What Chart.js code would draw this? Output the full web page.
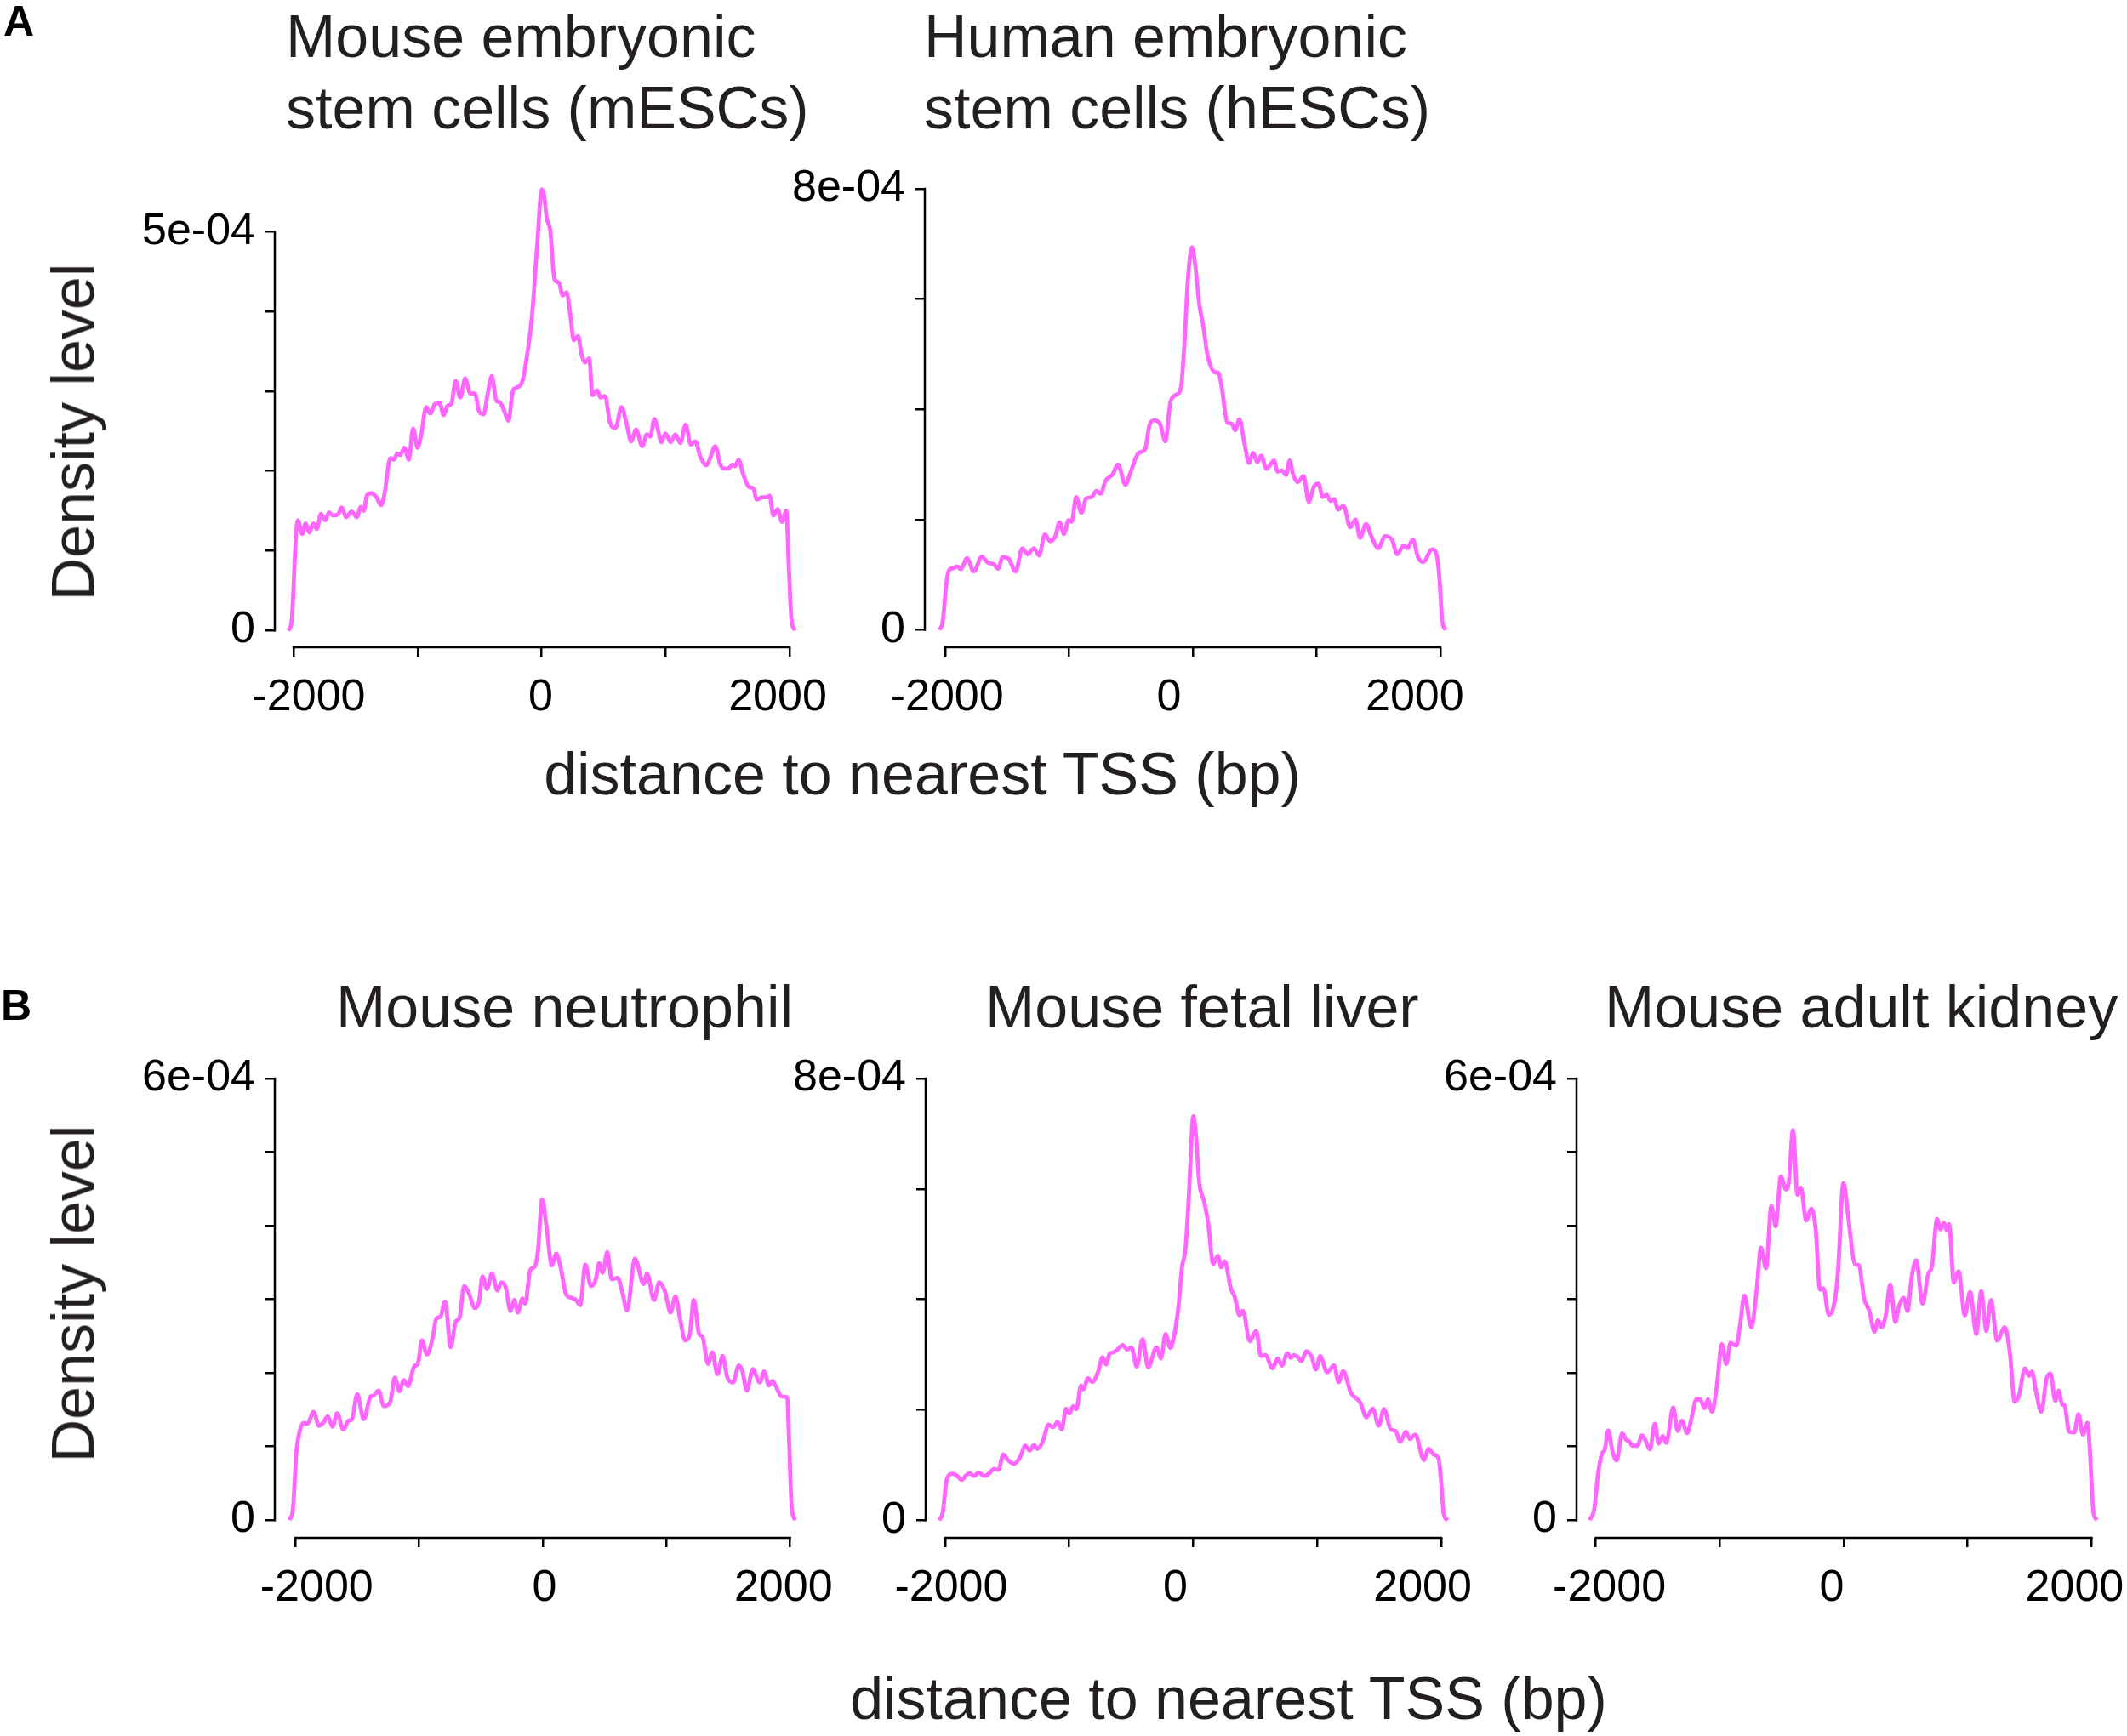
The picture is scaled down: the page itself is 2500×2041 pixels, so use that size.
<!DOCTYPE html>
<html lang="en">
<head>
<meta charset="UTF-8">
<title>Density of peaks around TSS</title>
<script src="https://cdn.jsdelivr.net/npm/chart.js@4.4.1/dist/chart.umd.min.js"></script>
<style>
  body { margin: 0; width: 2500px; height: 2041px; background: #fff; position: relative; overflow: hidden; }
  canvas { position: absolute; }
  .txt { position: absolute; font-family: 'Liberation Sans', Arial, sans-serif; font-size: 70px; line-height: 84px; color: #231f20; white-space: nowrap; }
  .lab { position: absolute; font-family: 'Liberation Sans', Arial, sans-serif; font-size: 50px; line-height: 50px; font-weight: bold; color: #000; }
  .ylab { transform: translate(-50%, -50%) rotate(-90deg); }
</style>
</head>
<body>
<canvas id="cA1"></canvas>
<canvas id="cA2"></canvas>
<canvas id="cB1"></canvas>
<canvas id="cB2"></canvas>
<canvas id="cB3"></canvas>

<div class="lab" style="left:4px; top:0px;">A</div>
<div class="lab" style="left:1px; top:1157px;">B</div>

<div class="txt" style="left:336px; top:1px;">Mouse embryonic<br>stem cells (mESCs)</div>
<div class="txt" style="left:1086px; top:1px;">Human embryonic<br>stem cells (hESCs)</div>
<div class="txt" style="left:395px; top:1142px;">Mouse neutrophil</div>
<div class="txt" style="left:1158px; top:1142px;">Mouse fetal liver</div>
<div class="txt" style="left:1886px; top:1142px;">Mouse adult kidney</div>

<div class="txt" style="left:384px; width:1400px; text-align:center; top:868px;">distance to nearest TSS (bp)</div>
<div class="txt" style="left:744px; width:1400px; text-align:center; top:1955px;">distance to nearest TSS (bp)</div>

<div class="txt ylab" style="left:86px; top:508px;">Density level</div>
<div class="txt ylab" style="left:86px; top:1521px;">Density level</div>

<script>
// density values are in units of 1e-04, x in bp
var xTicks = [-2000, -1000, 0, 1000, 2000];

// A: mouse ESCs
var xA1 = [-2045,-2017,-1980,-1966,-1930,-1902,-1874,-1840,-1812,-1779,
           -1745,-1714,-1681,-1639,-1611,-1577,-1532,-1490,-1457,-1434,
           -1409,-1373,-1331,-1294,-1269,-1219,-1191,-1163,-1140,-1106,
           -1070,-1036,-1000,-972,-930,-896,-860,-821,-790,-756,
           -728,-692,-655,-616,-574,-538,-504,-468,-434,-401,
           -364,-336,-300,-266,-230,-196,-154,-112,-76,-37,
           3,22,42,70,104,140,171,202,232,260,
           294,322,350,384,411,448,476,512,551,597,
           644,686,723,762,812,849,877,910,938,966,
           1000,1042,1078,1120,1162,1204,1240,1280,1330,1364,
           1400,1442,1470,1507,1540,1562,1590,1624,1672,1708,
           1736,1778,1821,1839,1870,1904,1940,1974,1994,2016,
           2044];
var yA1 = [0,0.09,1.19,1.38,1.21,1.34,1.23,1.34,1.27,1.46,
           1.38,1.48,1.44,1.46,1.54,1.42,1.49,1.42,1.55,1.50,
           1.69,1.72,1.67,1.57,1.69,2.16,2.14,2.22,2.20,2.29,
           2.14,2.53,2.29,2.44,2.80,2.72,2.84,2.85,2.70,2.82,
           2.84,3.13,2.92,3.16,2.97,2.97,2.75,2.71,2.97,3.19,
           2.88,2.86,2.75,2.63,3.01,3.05,3.13,3.50,3.96,4.79,
           5.53,5.44,5.17,5.02,4.41,4.36,4.20,4.24,3.96,3.64,
           3.69,3.47,3.36,3.41,2.95,3.01,2.92,2.94,2.61,2.54,
           2.80,2.59,2.37,2.52,2.31,2.46,2.43,2.65,2.52,2.36,
           2.47,2.36,2.46,2.35,2.58,2.33,2.37,2.18,2.07,2.18,
           2.31,2.08,2.03,2.03,2.08,2.06,2.14,1.97,1.80,1.78,
           1.64,1.67,1.67,1.69,1.44,1.52,1.36,1.50,0.81,0.13,
           0];

// A: human ESCs
var xA2 = [-2050,-2022,-1994,-1975,-1938,-1905,-1874,-1826,-1770,-1705,
           -1658,-1607,-1574,-1537,-1489,-1433,-1377,-1335,-1285,-1243,
           -1195,-1153,-1111,-1077,-1041,-1004,-979,-943,-900,-864,
           -816,-780,-746,-704,-648,-606,-544,-508,-438,-387,
           -348,-311,-264,-222,-180,-129,-95,-67,-39,-6,
           17,53,81,118,180,208,236,278,314,342,
           376,418,454,488,522,553,595,656,684,721,
           754,782,810,847,895,937,979,1016,1049,1083,
           1111,1142,1175,1217,1273,1315,1352,1400,1442,1498,
           1554,1610,1652,1703,1736,1778,1820,1862,1933,1975,
           1994,2017,2045];
var yA2 = [0,0.14,0.79,1.06,1.12,1.15,1.10,1.30,1.06,1.33,
           1.22,1.19,1.11,1.32,1.29,1.06,1.48,1.37,1.48,1.35,
           1.73,1.61,1.70,1.95,1.74,1.99,1.96,2.41,2.12,2.38,
           2.41,2.52,2.47,2.71,2.82,3.00,2.63,2.83,3.21,3.27,
           3.73,3.80,3.73,3.42,4.14,4.27,4.41,5.23,6.38,6.94,
           6.66,5.89,5.56,4.99,4.67,4.66,4.36,3.76,3.74,3.62,
           3.82,3.37,3.03,3.21,3.04,3.16,2.92,3.07,2.87,2.89,
           2.81,3.07,2.82,2.68,2.79,2.32,2.60,2.65,2.41,2.45,
           2.34,2.37,2.18,2.25,1.86,2.00,1.67,1.92,1.70,1.48,
           1.70,1.63,1.37,1.53,1.48,1.64,1.32,1.23,1.46,1.32,
           0.90,0.14,0];

// B: mouse neutrophil
var xB1 = [-2048,-2020,-1992,-1972,-1936,-1902,-1854,-1810,-1776,-1739,
           -1700,-1664,-1613,-1571,-1543,-1501,-1448,-1392,-1370,-1328,
           -1286,-1235,-1196,-1160,-1123,-1090,-1039,-1011,-978,-936,
           -894,-860,-829,-790,-745,-703,-675,-636,-600,-549,
           -516,-488,-451,-412,-367,-334,-300,-261,-230,-202,
           -165,-143,-101,-67,-39,-6,31,73,109,143,
           190,232,269,302,344,389,428,456,484,521,
           557,605,641,681,745,815,843,899,941,989,
           1033,1072,1109,1151,1187,1221,1263,1291,1336,1370,
           1412,1454,1493,1538,1585,1613,1650,1698,1754,1790,
           1828,1856,1884,1929,1976,1990,2013,2041];
var yB1 = [0,0.16,0.94,1.16,1.32,1.31,1.47,1.28,1.32,1.41,
           1.27,1.45,1.23,1.35,1.37,1.71,1.37,1.68,1.69,1.76,
           1.55,1.60,1.94,1.75,1.90,1.82,2.09,2.12,2.44,2.25,
           2.45,2.74,2.76,2.97,2.35,2.70,2.74,3.18,3.09,2.88,
           2.97,3.31,3.14,3.35,3.12,3.23,3.16,2.84,2.99,2.82,
           3.01,2.94,3.40,3.44,3.66,4.36,3.97,3.46,3.62,3.44,
           3.06,3.02,2.99,2.92,3.47,3.18,3.27,3.49,3.36,3.64,
           3.27,3.29,3.11,2.85,3.55,3.21,3.35,2.99,3.23,3.10,
           2.82,3.04,2.74,2.44,2.51,2.99,2.53,2.49,2.12,2.28,
           1.98,2.23,1.93,1.87,2.10,2.03,1.76,2.05,1.87,2.02,
           1.83,1.89,1.82,1.68,1.67,1.14,0.16,0];

// B: mouse fetal liver
var xB2 = [-2048,-2020,-1986,-1944,-1907,-1868,-1832,-1804,-1767,-1733,
           -1683,-1635,-1607,-1571,-1531,-1495,-1447,-1396,-1354,-1318,
           -1284,-1256,-1214,-1166,-1130,-1093,-1060,-1026,-998,-970,
           -942,-905,-886,-849,-815,-765,-731,-703,-675,-644,
           -611,-569,-532,-498,-456,-408,-364,-296,-260,-223,
           -184,-161,-119,-91,-63,-35,1,21,49,86,
           119,161,198,226,254,302,335,372,400,456,
           507,546,582,639,681,714,759,787,815,843,
           871,911,956,989,1023,1079,1135,1172,1208,1270,
           1349,1396,1447,1495,1537,1593,1630,1669,1714,1747,
           1789,1860,1896,1939,1978,2000,2020,2051];
var yB2 = [0,0.13,0.75,0.84,0.81,0.73,0.81,0.85,0.80,0.86,
           0.80,0.87,0.93,0.91,1.19,1.09,1.02,1.14,1.35,1.26,
           1.36,1.29,1.42,1.73,1.68,1.78,1.64,2.02,1.93,2.06,
           2.01,2.44,2.37,2.57,2.50,2.70,2.95,2.82,3.01,3.04,
           3.09,3.17,3.09,3.13,2.78,3.28,2.77,3.13,2.93,3.37,
           3.12,3.27,3.87,4.58,4.91,5.89,7.32,6.99,6.11,5.78,
           5.40,4.64,4.79,4.58,4.69,4.20,4.04,3.71,3.79,3.24,
           3.43,2.97,2.99,2.75,2.93,2.80,3.02,2.94,2.99,2.95,
           2.88,3.06,2.95,2.73,2.97,2.68,2.80,2.50,2.70,2.31,
           2.12,1.86,2.02,1.71,2.01,1.64,1.62,1.42,1.60,1.47,
           1.55,1.09,1.29,1.19,1.11,0.65,0.10,0];

// B: mouse adult kidney
var xB3 = [-2048,-2011,-1983,-1950,-1927,-1899,-1866,-1832,-1787,-1754,
           -1731,-1703,-1664,-1627,-1599,-1563,-1524,-1493,-1459,-1431,
           -1375,-1339,-1305,-1263,-1227,-1188,-1157,-1123,-1095,-1062,
           -1025,-983,-947,-913,-866,-835,-801,-745,-703,-667,
           -627,-583,-549,-507,-465,-443,-409,-373,-345,-303,
           -261,-227,-191,-163,-121,-73,-45,-3,39,67,
           89,123,165,207,249,277,305,339,375,417,
           445,482,515,549,585,636,683,711,753,781,
           809,829,851,888,927,977,1019,1070,1109,1151,
           1188,1238,1300,1342,1378,1412,1462,1496,1518,1552,
           1594,1636,1669,1706,1734,1762,1781,1818,1860,1894,
           1930,1966,1986,2014,2042];
var yB3 = [0,0.16,0.61,0.90,0.96,1.22,0.94,0.81,1.18,1.09,
           1.07,1.01,1.01,1.15,1.08,0.96,1.31,1.04,1.14,1.05,
           1.53,1.21,1.35,1.18,1.39,1.64,1.64,1.52,1.64,1.47,
           1.80,2.39,2.12,2.41,2.37,2.66,3.05,2.62,3.11,3.70,
           3.42,4.27,3.99,4.67,4.49,4.59,5.30,4.42,4.52,4.07,
           4.23,3.97,3.13,3.15,2.79,2.97,3.40,4.58,4.09,3.68,
           3.48,3.46,3.01,2.84,2.56,2.72,2.62,2.78,3.20,2.69,
           2.90,3.02,2.84,3.31,3.53,2.94,3.35,3.44,4.09,3.95,
           4.04,3.94,4.02,3.23,3.38,2.78,3.10,2.53,3.11,2.57,
           2.99,2.44,2.62,2.25,1.61,1.68,2.06,1.96,2.02,1.74,
           1.47,1.92,1.99,1.62,1.76,1.57,1.56,1.20,1.19,1.44,
           1.16,1.32,0.94,0.11,0];

// y ticks per panel (1e-04 units)
var yTicksA1 = [0, 1, 2, 3, 4, 5];
var yTicksA2 = [0, 2, 4, 6, 8];
var yTicksB1 = [0, 1, 2, 3, 4, 5, 6];
var yTicksB2 = [0, 2, 4, 6, 8];
var yTicksB3 = [0, 1, 2, 3, 4, 5, 6];

// page placement of each plot region (left, top, right, bottom), axis limits,
// and the small sideways nudge of the -2000 / 0 / 2000 labels seen in the figure
var panels = [
  { id: 'cA1', xs: xA1, ys: yA1, yt: yTicksA1, box: [323, 213, 950, 761],   xlim: [-2151, 2151], ylim: [-0.212, 5.6],  nudge: [18, -1, -14] },
  { id: 'cA2', xs: xA2, ys: yA2, yt: yTicksA2, box: [1087, 198, 1717, 761], xlim: [-2166, 2166], ylim: [-0.316, 8.32], nudge: [2, -28, -30] },
  { id: 'cB1', xs: xB1, ys: yB1, yt: yTicksB1, box: [323, 1244, 953, 1808], xlim: [-2167, 2167], ylim: [-0.241, 6.24], nudge: [25, 2, -8] },
  { id: 'cB2', xs: xB2, ys: yB2, yt: yTicksB2, box: [1088, 1244, 1717, 1808], xlim: [-2157, 2157], ylim: [-0.32, 8.32], nudge: [7, -21, -22] },
  { id: 'cB3', xs: xB3, ys: yB3, yt: yTicksB3, box: [1853, 1244, 2481, 1808], xlim: [-2155, 2155], ylim: [-0.241, 6.24], nudge: [16, -14, -20] }
];

var YW = 200, XH = 100, PT = 40, PR = 70;
var tickFont = { family: 'Liberation Sans', size: 52 };

// R style axes: the lines only run between the first and last tick,
// x labels only on -2000, 0 and 2000
var axisLines = {
  id: 'axisLines',
  afterDraw: function(chart, args, opts) {
    var ctx = chart.ctx, area = chart.chartArea;
    var x = chart.scales.x, y = chart.scales.y;
    var yt = y.ticks, xt = x.ticks;
    ctx.save();
    ctx.strokeStyle = '#000';
    ctx.lineWidth = 2.5;
    ctx.lineCap = 'square';
    ctx.beginPath();
    ctx.moveTo(area.left, y.getPixelForValue(yt[0].value));
    ctx.lineTo(area.left, y.getPixelForValue(yt[yt.length - 1].value));
    ctx.moveTo(x.getPixelForValue(xt[0].value), area.bottom);
    ctx.lineTo(x.getPixelForValue(xt[xt.length - 1].value), area.bottom);
    ctx.stroke();

    ctx.fillStyle = '#000';
    ctx.font = tickFont.size + 'px ' + tickFont.family;
    ctx.textAlign = 'center';
    ctx.textBaseline = 'middle';
    var k = 0;
    xt.forEach(function(t) {
      if (t.value % 2000 !== 0) return;
      ctx.fillText(String(t.value), x.getPixelForValue(t.value) + opts.nudge[k], area.bottom + 60);
      k++;
    });
    ctx.restore();
  }
};

panels.forEach(function(p) {
  var L = p.box[0], T = p.box[1], R = p.box[2], B = p.box[3];
  var cv = document.getElementById(p.id);
  cv.width = YW + (R - L) + PR;
  cv.height = PT + (B - T) + XH;
  cv.style.left = (L - YW) + 'px';
  cv.style.top = (T - PT) + 'px';

  var pts = p.xs.map(function(v, i) { return { x: v, y: p.ys[i] }; });
  var top = p.yt[p.yt.length - 1];

  new Chart(cv, {
    type: 'line',
    data: {
      datasets: [{
        data: pts,
        borderColor: '#ff66ff',
        borderWidth: 4.8,
        pointRadius: 0,
        fill: false,
        cubicInterpolationMode: 'monotone'
      }]
    },
    options: {
      responsive: false,
      animation: false,
      devicePixelRatio: 1,
      layout: { padding: { top: PT, right: PR, left: 0, bottom: 0 } },
      plugins: {
        legend: { display: false },
        tooltip: { enabled: false },
        axisLines: { nudge: p.nudge }
      },
      scales: {
        x: {
          type: 'linear',
          position: 'bottom',
          min: p.xlim[0],
          max: p.xlim[1],
          border: { display: false },
          grid: { drawOnChartArea: false, drawTicks: true, tickLength: 11, color: '#000', lineWidth: 2.5 },
          ticks: {
            autoSkip: false, maxRotation: 0, padding: 18, color: '#000', font: tickFont,
            callback: function() { return ''; }
          },
          afterBuildTicks: function(s) { s.ticks = xTicks.map(function(v) { return { value: v }; }); },
          afterFit: function(s) { s.height = XH; }
        },
        y: {
          type: 'linear',
          position: 'left',
          min: p.ylim[0],
          max: p.ylim[1],
          border: { display: false },
          grid: { drawOnChartArea: false, drawTicks: true, tickLength: 11, color: '#000', lineWidth: 2.5 },
          ticks: {
            autoSkip: false, padding: 12, color: '#000', font: tickFont,
            callback: function(v) { return v === 0 ? '0' : (v === top ? top + 'e-04' : ''); }
          },
          afterBuildTicks: function(s) { s.ticks = p.yt.map(function(v) { return { value: v }; }); },
          afterFit: function(s) { s.width = YW; }
        }
      }
    },
    plugins: [axisLines]
  });
});
</script>
</body>
</html>
